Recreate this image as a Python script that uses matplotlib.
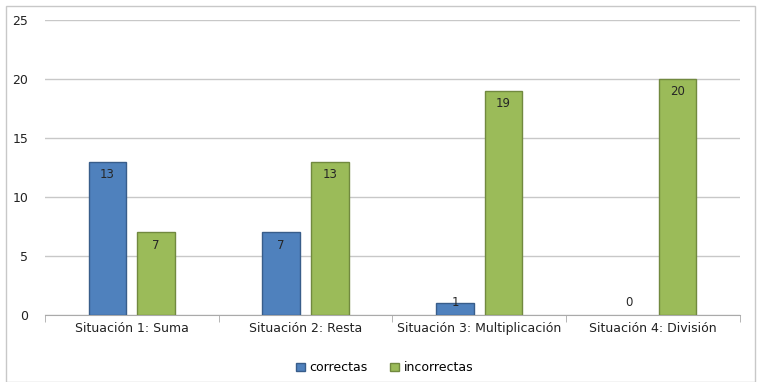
import matplotlib.pyplot as plt
import numpy as np
from matplotlib.patches import Rectangle

categories = ['Situación 1: Suma', 'Situación 2: Resta',
              'Situación 3: Multiplicación', 'Situación 4: División']
correctas = [13, 7, 1, 0]
incorrectas = [7, 13, 19, 20]

plt.rcParams['font.family'] = ['DejaVu Sans']

x = np.arange(len(categories))
width = 0.216
off = 0.14

fig = plt.figure(figsize=(7.62, 3.82), dpi=100)
ax = fig.add_axes([0.059, 0.175, 0.912, 0.773])

# chart border
fig.patches.append(Rectangle((0.008, 0.0), 0.983, 0.984, transform=fig.transFigure,
                             fill=False, edgecolor='#c8c8c8', linewidth=1))

b1 = ax.bar(x - off, correctas, width, color='#4F81BD', edgecolor='#385D8A',
            linewidth=1, label='correctas', zorder=3)
b2 = ax.bar(x + off, incorrectas, width, color='#9BBB59', edgecolor='#71893F',
            linewidth=1, label='incorrectas', zorder=3)

# value labels just inside the bar top
for bars, vals in ((b1, correctas), (b2, incorrectas)):
    for r, v in zip(bars, vals):
        if v == 0:
            r.set_linewidth(0)
        ax.text(r.get_x() + r.get_width() / 2, max(v - 1.1, 1.1), str(v),
                ha='center', va='center', fontsize=8.5, color='#262626', zorder=4)

ax.set_xlim(-0.5, 3.5)
ax.set_ylim(0, 25)
ax.set_yticks(range(0, 26, 5))
ax.yaxis.grid(True, color='#c8c8c8', linewidth=1, zorder=0)
ax.set_axisbelow(True)

ax.set_xticks(x)
ax.set_xticklabels(categories)
ax.set_xticks(np.arange(-0.5, 4, 1), minor=True)
ax.tick_params(axis='x', which='major', length=0, pad=5, labelsize=9, labelcolor='#222222')
ax.tick_params(axis='x', which='minor', length=5, color='#aaaaaa', direction='out')
ax.tick_params(axis='y', length=0, pad=12, labelsize=9, labelcolor='#222222')

for s in ('top', 'right', 'left'):
    ax.spines[s].set_visible(False)
ax.spines['bottom'].set_color('#aaaaaa')

fig.legend(loc='center', bbox_to_anchor=(0.505, 0.037), ncol=2, frameon=False,
           fontsize=9, handlelength=0.7, handleheight=0.7, handletextpad=0.4,
           columnspacing=1.8)

fig.savefig('out.png', dpi=100)
